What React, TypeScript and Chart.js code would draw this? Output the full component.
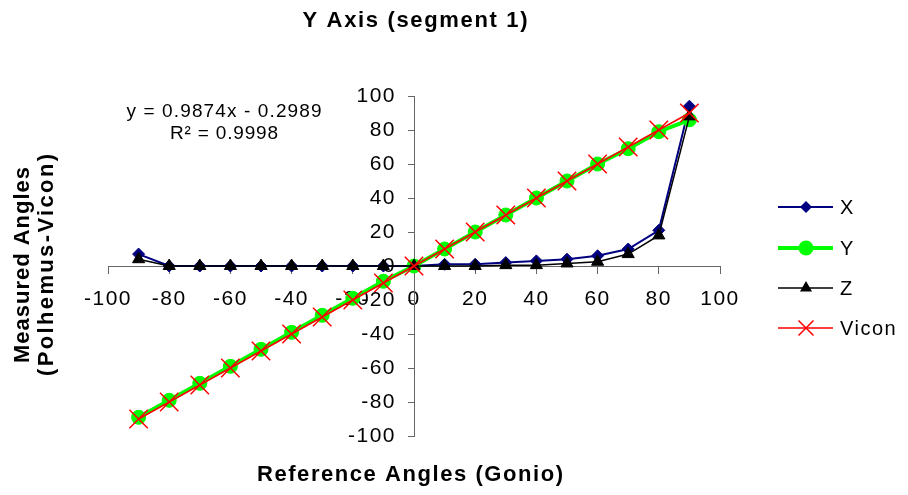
import React, { useEffect, useRef } from 'react';
import { Chart, registerables } from 'chart.js';

Chart.register(...registerables);

const angles = [-90, -80, -70, -60, -50, -40, -30, -20, -10, 0, 10, 20, 30, 40, 50, 60, 70, 80, 90];
const seriesX = [7, 0, 0, 0, 0, 0, 0, 0, 0, 0, 1, 1, 2, 3, 4, 6, 10, 21, 94];
const seriesY = [-89, -79, -69, -59, -49, -39, -29, -19, -9, 0, 10, 20, 30, 40, 50, 60, 69, 79, 86];
const seriesZ = [4, 0, 0, 0, 0, 0, 0, 0, 0, 0, 0, 0, 0.5, 0.5, 1.5, 2.5, 7, 18, 88];
const seriesVicon = [-90, -80, -70, -60, -50, -40, -30, -20, -10, 0, 10, 20, 30, 40, 50, 60, 70, 80, 90];
const tickValues = [-100, -80, -60, -40, -20, 0, 20, 40, 60, 80, 100];
const seriesNames = ['X', 'Y', 'Z', 'Vicon'];

const chartTitle = 'Y Axis (segment 1)';
const xTitle = 'Reference Angles (Gonio)';
const yTitleLines = ['Measured Angles', '(Polhemus-Vicon)'];
const equationLines = ['y = 0.9874x - 0.2989', 'R² = 0.9998'];

const FONT = '"Liberation Sans", Arial, sans-serif';

const NAVY = '#000080';
const GREEN = '#00FF00';
const BLACK = '#000000';
const RED = '#FF0000';

function toPoints(vals: number[]) {
  return angles.map((a, i) => ({ x: a, y: vals[i] }));
}

function drawSpaced(
  ctx: CanvasRenderingContext2D,
  text: string,
  cx: number,
  cy: number,
  font: string,
  target: number
) {
  ctx.save();
  ctx.font = font;
  (ctx as any).letterSpacing = '0px';
  const w0 = ctx.measureText(text).width;
  const n = Math.max(text.length - 1, 1);
  const sp = (target - w0) / n;
  (ctx as any).letterSpacing = sp + 'px';
  ctx.textAlign = 'left';
  ctx.textBaseline = 'middle';
  ctx.fillStyle = '#000';
  ctx.fillText(text, cx - target / 2, cy);
  ctx.restore();
}

function drawMarker(ctx: CanvasRenderingContext2D, kind: string, x: number, y: number) {
  ctx.save();
  if (kind === 'diamond') {
    const r = 6;
    ctx.fillStyle = NAVY;
    ctx.beginPath();
    ctx.moveTo(x, y - r);
    ctx.lineTo(x + r, y);
    ctx.lineTo(x, y + r);
    ctx.lineTo(x - r, y);
    ctx.closePath();
    ctx.fill();
  } else if (kind === 'circle') {
    ctx.fillStyle = GREEN;
    ctx.beginPath();
    ctx.arc(x, y, 7.5, 0, Math.PI * 2);
    ctx.fill();
  } else if (kind === 'triangle') {
    const r = 7;
    ctx.fillStyle = BLACK;
    ctx.beginPath();
    ctx.moveTo(x, y - r);
    ctx.lineTo(x + r * 0.866, y + r * 0.5);
    ctx.lineTo(x - r * 0.866, y + r * 0.5);
    ctx.closePath();
    ctx.fill();
  } else {
    const r = 7.5;
    ctx.strokeStyle = RED;
    ctx.lineWidth = 1.5;
    ctx.beginPath();
    ctx.moveTo(x - r, y - r);
    ctx.lineTo(x + r, y + r);
    ctx.moveTo(x + r, y - r);
    ctx.lineTo(x - r, y + r);
    ctx.stroke();
  }
  ctx.restore();
}

const decorPlugin = {
  id: 'decor',
  beforeDraw(chart: any) {
    (chart.ctx as any).letterSpacing = '1.5px';
  },
  afterDraw(chart: any) {
    const ctx: CanvasRenderingContext2D = chart.ctx;
    const xs = chart.scales.x;
    const ys = chart.scales.y;
    const area = chart.chartArea;
    const cxPlot = (area.left + area.right) / 2;

    // y tick labels
    const axisX = xs.getPixelForValue(0);
    ctx.save();
    ctx.font = `21px ${FONT}`;
    (ctx as any).letterSpacing = '1.5px';
    ctx.textAlign = 'right';
    ctx.textBaseline = 'middle';
    ctx.fillStyle = '#000';
    ys.ticks.forEach((t: any) => {
      const py = ys.getPixelForValue(t.value);
      ctx.fillText(String(t.value), axisX - 18, py);
    });
    ctx.restore();

    // titles
    drawSpaced(ctx, chartTitle, cxPlot + 1, 21, `bold 22px ${FONT}`, 225);
    drawSpaced(ctx, xTitle, cxPlot - 4, 475, `bold 22px ${FONT}`, 306);

    // rotated y title
    const cyPlot = (area.top + area.bottom) / 2;
    ctx.save();
    ctx.translate(23, cyPlot - 1);
    ctx.rotate(-Math.PI / 2);
    drawSpaced(ctx, yTitleLines[0], 0, 0, `bold 22px ${FONT}`, 196);
    ctx.restore();
    ctx.save();
    ctx.translate(47, cyPlot - 1);
    ctx.rotate(-Math.PI / 2);
    drawSpaced(ctx, yTitleLines[1], 0, 0, `bold 22px ${FONT}`, 222);
    ctx.restore();

    // regression text
    drawSpaced(ctx, equationLines[0], 224, 112, `19px ${FONT}`, 195);
    drawSpaced(ctx, equationLines[1], 224, 134, `19px ${FONT}`, 108);

    // legend
    const kinds = ['diamond', 'circle', 'triangle', 'cross'];
    const colors = [NAVY, GREEN, BLACK, RED];
    const widths = [2, 4, 1.5, 1.5];
    const rows = [207, 248, 288, 328];
    seriesNames.forEach((name, i) => {
      const y = rows[i];
      ctx.save();
      ctx.strokeStyle = colors[i];
      ctx.lineWidth = widths[i];
      ctx.beginPath();
      ctx.moveTo(778, y);
      ctx.lineTo(833, y);
      ctx.stroke();
      ctx.restore();
      drawMarker(ctx, kinds[i], 806, y);
      ctx.save();
      ctx.font = `20px ${FONT}`;
      (ctx as any).letterSpacing = '1.5px';
      ctx.textAlign = 'left';
      ctx.textBaseline = 'middle';
      ctx.fillStyle = '#000';
      ctx.fillText(name, 840, y + 1);
      ctx.restore();
    });
  },
};

export default function App() {
  const ref = useRef<HTMLCanvasElement | null>(null);

  useEffect(() => {
    document.body.style.margin = '0';
    const canvas = ref.current;
    if (!canvas) return;
    const setTicks = (scale: any) => {
      scale.ticks = tickValues.map((v) => ({ value: v }));
    };
    const chart = new Chart(canvas, {
      type: 'scatter',
      data: {
        datasets: [
          {
            label: seriesNames[0],
            data: toPoints(seriesX),
            showLine: true,
            borderColor: NAVY,
            backgroundColor: NAVY,
            borderWidth: 2,
            pointStyle: 'rectRot',
            pointRadius: 6,
            pointBorderWidth: 1,
            pointBorderColor: NAVY,
            pointBackgroundColor: NAVY,
            order: 4,
          },
          {
            label: seriesNames[1],
            data: toPoints(seriesY),
            showLine: true,
            borderColor: GREEN,
            backgroundColor: GREEN,
            borderWidth: 4,
            pointStyle: 'circle',
            pointRadius: 7,
            pointBorderWidth: 1,
            pointBorderColor: GREEN,
            pointBackgroundColor: GREEN,
            order: 3,
          },
          {
            label: seriesNames[2],
            data: toPoints(seriesZ),
            showLine: true,
            borderColor: BLACK,
            backgroundColor: BLACK,
            borderWidth: 1.5,
            pointStyle: 'triangle',
            pointRadius: 7,
            pointBorderWidth: 1,
            pointBorderColor: BLACK,
            pointBackgroundColor: BLACK,
            order: 2,
          },
          {
            label: seriesNames[3],
            data: toPoints(seriesVicon),
            showLine: true,
            borderColor: RED,
            backgroundColor: RED,
            borderWidth: 1.5,
            pointStyle: 'crossRot',
            pointRadius: 13,
            pointBorderWidth: 1.5,
            pointBorderColor: RED,
            order: 1,
          },
        ],
      },
      options: {
        responsive: false,
        animation: false,
        devicePixelRatio: 1,
        layout: { padding: { left: 108, right: 188, top: 96, bottom: 59 } },
        plugins: {
          legend: { display: false },
          title: { display: false },
          tooltip: { enabled: false },
        },
        elements: { line: { tension: 0 } },
        scales: {
          x: {
            type: 'linear',
            min: -100,
            max: 100,
            position: { y: 0 } as any,
            afterBuildTicks: setTicks,
            ticks: {
              autoSkip: false,
              maxRotation: 0,
              padding: 14,
              color: '#000',
              font: { family: FONT, size: 21 },
            },
            grid: { drawOnChartArea: false, drawTicks: true, tickLength: 7, color: '#666' },
            border: { display: true, color: '#666', width: 1 },
          },
          y: {
            type: 'linear',
            min: -100,
            max: 100,
            position: { x: 0 } as any,
            afterBuildTicks: setTicks,
            ticks: { display: false },
            grid: { drawOnChartArea: false, drawTicks: true, tickLength: 6, color: '#666' },
            border: { display: true, color: '#666', width: 1 },
          },
        },
      },
      plugins: [decorPlugin],
    });
    return () => chart.destroy();
  }, []);

  return <canvas ref={ref} width={908} height={495} style={{ display: 'block' }} />;
}
